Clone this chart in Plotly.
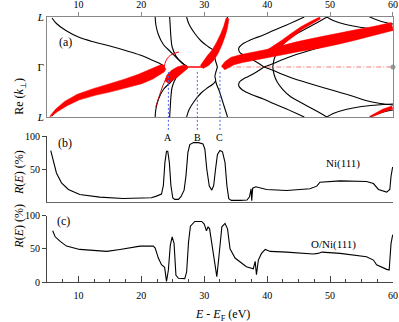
import numpy as np
import plotly.graph_objects as go

# ---------------- panel (a): complex band structure ----------------
# energies in eV, Re(k_perp) in units of Gamma-L (0 = Gamma, +-1 = L)
# real bands, upper half only (they are mirrored to k < 0)
b1_E = [5.8, 6.5, 8.0, 10.0, 12.5, 15.0, 17.5, 19.8, 21.5, 22.6, 23.2, 23.6]
b1_k = [0.98, 0.87, 0.73, 0.60, 0.50, 0.42, 0.33, 0.24, 0.15, 0.09, 0.05, 0.02]
b2_E = [22.2, 22.3, 22.7, 23.5, 24.6, 25.8, 26.7, 27.3]
b2_k = [1.0, 0.85, 0.65, 0.45, 0.31, 0.16, 0.06, 0.0]
b3_E = [24.5, 24.6, 24.7, 24.9, 25.5, 26.3, 26.9, 27.3]
b3_k = [1.0, 0.8, 0.6, 0.4, 0.22, 0.1, 0.04, 0.0]
b4_E = [27.2, 27.6, 28.5, 29.5, 30.6, 31.4, 31.8, 31.7, 31.9, 32.1]
b4_k = [1.0, 0.85, 0.67, 0.52, 0.41, 0.34, 0.28, 0.18, 0.08, 0.0]
b5_E = [33.7, 33.2, 32.7, 32.3, 32.0, 31.8]
b5_k = [1.0, 0.8, 0.6, 0.45, 0.36, 0.28]
b6_E = [45.9, 43.1, 41.0, 39.4, 37.5, 36.2, 35.5, 35.6, 36.2, 37.0, 38.3, 39.5]
b6_k = [1.0, 0.84, 0.73, 0.64, 0.55, 0.47, 0.38, 0.30, 0.24, 0.19, 0.10, 0.0]
b7_E = [39.5, 41.0, 42.5, 44.4, 47.0, 50.0, 53.0, 56.0, 58.0, 60.0]
b7_k = [0.0, 0.07, 0.15, 0.24, 0.34, 0.45, 0.56, 0.68, 0.73, 0.76]
b8_E = [40.9, 41.1, 41.6, 42.5, 43.8, 45.2, 46.5, 48.0, 49.5]
b8_k = [0.0, 0.15, 0.30, 0.45, 0.60, 0.70, 0.79, 0.89, 1.0]
b9_E = [49.5, 50.5, 52.5, 55.0, 57.5, 60.0]
b9_k = [1.0, 0.93, 0.85, 0.79, 0.76, 0.74]
b10_E = [56.3, 57.5, 58.8, 60.0]
b10_k = [1.0, 0.94, 0.89, 0.86]

# weighted (red) bands: centre line and weight (px)
r1_E = [5.5, 6.5, 8.0, 10.0, 12.5, 15.0, 17.5, 19.8, 21.5, 22.6, 23.3, 23.7]
r1_k = [-0.99, -0.87, -0.73, -0.60, -0.50, -0.42, -0.33, -0.24, -0.15, -0.08, -0.03, 0.0]
r1_w = [1, 3, 5, 6, 7, 8, 9, 10, 10, 9, 8, 5]
r2_E = [24.0, 24.5, 25.2, 26.0, 26.8, 27.3]
r2_k = [-0.30, -0.22, -0.14, -0.07, -0.02, 0.0]
r2_w = [4, 8, 9, 8, 6, 3]
r3_E = [29.6, 30.3, 31.0, 31.7, 32.4, 33.0, 33.4, 33.7]
r3_k = [0.0, 0.08, 0.18, 0.30, 0.47, 0.65, 0.80, 0.97]
r3_w = [4, 7, 8, 7, 6, 5, 4, 3]
r4_E = [33.0, 33.6, 34.5, 36.0, 38.0, 40.0, 42.5, 45.0, 48.0, 51.0, 54.0, 57.0, 59.9]
r4_k = [-0.02, 0.05, 0.12, 0.17, 0.22, 0.27, 0.34, 0.41, 0.48, 0.56, 0.64, 0.72, 0.81]
r4_w = [5, 7, 8, 8, 8, 8, 9, 10, 11, 11, 10, 9, 8]
r5_E = [39.8, 41.0, 42.5, 44.0, 45.5, 47.0, 48.4]
r5_k = [0.30, 0.38, 0.50, 0.64, 0.78, 0.89, 0.98]
r5_w = [2, 3, 4, 4, 3, 2.5, 2]
r6_E = [56.5, 57.5, 58.5, 59.9]
r6_k = [-0.99, -0.93, -0.87, -0.81]
r6_w = [1.5, 2.5, 3, 3]
arc_E = [23.6, 23.9, 24.3, 25.0, 26.0]
arc_k = [0.0, 0.12, 0.20, 0.26, 0.30]
low_E = [22.3, 22.8, 23.4, 24.0]
low_k = [-0.80, -0.60, -0.38, -0.22]
flat_E = [27.3, 29.8]
dash_E = [33.5, 60.0]

k_ticks = [-1, 0, 1]
k_labels = ["<i>L</i>", "Γ", "<i>L</i>"]
E_ticks = [10, 20, 30, 40, 50, 60]

# ---------------- panels (b), (c): reflectivity ----------------
ni_E = [5.6, 6.0, 6.5, 7.3, 8.4, 10.2, 13.4, 17.1, 20.3, 21.6, 22.4, 23.2, 23.5, 23.75, 24.0, 24.2,
        24.45, 24.7, 25.0, 25.3, 25.9, 26.3, 26.8, 27.1, 27.4, 27.7, 28.3, 29.1, 29.8, 30.1, 30.4,
        30.8, 31.2, 31.5, 31.8, 32.1, 32.5, 32.9, 33.3, 33.6, 33.9, 34.3, 35.7, 36.8, 37.2, 37.45,
        37.55, 37.7, 38.2, 39.9, 43.1, 46.8, 47.9, 48.4, 51.6, 55.8, 56.9, 57.7, 59.0, 59.5, 59.7, 59.95]
ni_R = [78, 64, 44, 29, 19, 11.4, 7.4, 5.4, 5.4, 6.5, 8.9, 12, 25, 60, 77, 77,
        60, 25, 6, 4, 4, 8, 18, 40, 75, 87, 90, 90, 88, 80, 50,
        24, 18, 25, 50, 72, 78, 76, 60, 25, 5, 2.5, 2.5, 3, 8, 20,
        2, 21, 23, 19, 17.5, 20, 24, 30, 32, 31, 28, 19, 15, 19, 39, 53]
oni_E = [5.9, 6.3, 7.1, 8.1, 10.2, 13.4, 14.5, 16.6, 19.8, 21.9, 22.2, 22.7, 23.2, 23.7, 24.0,
         24.3, 24.6, 24.9, 25.2, 25.5, 25.9, 26.9, 27.2, 27.5, 27.8, 28.5, 29.6, 30.0, 30.35, 30.6,
         30.85, 31.2, 31.7, 32.0, 32.3, 32.8, 33.3, 33.7, 34.1, 34.9, 36.7, 37.8, 38.1, 38.3, 38.6,
         39.1, 39.7, 40.5, 43.1, 47.3, 48.1, 48.7, 51.6, 55.8, 56.9, 57.4, 59.0, 59.4, 59.7, 59.96]
oni_R = [77, 68, 61, 54, 49, 47, 46, 49, 54, 54, 51, 36, 26, 22, 1,
         18, 55, 68, 58, 10, 5.6, 5, 15, 60, 84, 91, 91, 87, 77, 83,
         80, 58, 30, 8, 35, 83, 88, 80, 50, 36, 23, 20, 31, 11, 33,
         43, 49, 46, 45, 42, 43, 45, 43, 38, 33, 26, 19, 18, 58, 71]

peak_E = [24.3, 28.9, 32.5]
peak_names = ["A", "B", "C"]

FONT = "Liberation Serif"
RED = "#ff0000"
SX, SY = 6.29, 50.0  # px per eV, px per unit k (panel a)


def mirrored(E, k):
    E = list(E)
    k = list(k)
    return E + [None] + E, k + [None] + [-v for v in k]


def ribbon(E, k, w):
    E = np.array(E, float)
    k = np.array(k, float)
    w = np.array(w, float)
    px, py = E * SX, k * SY
    dx, dy = np.gradient(px), np.gradient(py)
    n = np.hypot(dx, dy)
    nx, ny = -dy / n, dx / n
    ux, uy = px + nx * w / 2, py + ny * w / 2
    lx, ly = px - nx * w / 2, py - ny * w / 2
    xs = np.concatenate([ux, lx[::-1], ux[:1]]) / SX
    ys = np.concatenate([uy, ly[::-1], uy[:1]]) / SY
    return xs, ys


fig = go.Figure()

black_bands = [(b1_E, b1_k), (b2_E, b2_k), (b3_E, b3_k), (b4_E, b4_k), (b5_E, b5_k),
               (b6_E, b6_k), (b7_E, b7_k), (b8_E, b8_k), (b9_E, b9_k), (b10_E, b10_k)]
for E, k in black_bands:
    xs, ys = mirrored(E, k)
    fig.add_trace(go.Scatter(x=xs, y=ys, mode="lines", line=dict(color="black", width=1.1, shape="spline"),
                             xaxis="x", yaxis="y", hoverinfo="skip"))

# thin red lines
fig.add_trace(go.Scatter(x=flat_E, y=[0, 0], mode="lines", line=dict(color=RED, width=1.5),
                         xaxis="x", yaxis="y"))
fig.add_trace(go.Scatter(x=dash_E, y=[0, 0], mode="lines",
                         line=dict(color="#f04040", width=0.7, dash="5px,2px,1px,2px"),
                         xaxis="x", yaxis="y"))
fig.add_trace(go.Scatter(x=arc_E, y=arc_k, mode="lines", line=dict(color=RED, width=1, shape="spline"),
                         xaxis="x", yaxis="y"))
fig.add_trace(go.Scatter(x=low_E, y=low_k, mode="lines", line=dict(color="#b01010", width=1, shape="spline"),
                         xaxis="x", yaxis="y"))

for E, k, w in [(r1_E, r1_k, r1_w), (r2_E, r2_k, r2_w), (r3_E, r3_k, r3_w),
                (r4_E, r4_k, r4_w), (r5_E, r5_k, r5_w), (r6_E, r6_k, r6_w)]:
    xs, ys = ribbon(E, k, w)
    fig.add_trace(go.Scatter(x=xs, y=ys, mode="lines", fill="toself", fillcolor=RED,
                             line=dict(color=RED, width=0.5), xaxis="x", yaxis="y"))

fig.add_trace(go.Scatter(x=[60], y=[0], mode="markers", marker=dict(color="#999", size=5),
                         xaxis="x", yaxis="y", cliponaxis=False))

# reflectivity curves
fig.add_trace(go.Scatter(x=ni_E, y=ni_R, mode="lines", line=dict(color="black", width=1.1),
                         xaxis="x2", yaxis="y2"))
fig.add_trace(go.Scatter(x=oni_E, y=oni_R, mode="lines", line=dict(color="black", width=1.1),
                         xaxis="x3", yaxis="y3"))

# A, B, C markers
for e, name in zip(peak_E, peak_names):
    fig.add_shape(type="line", xref="x", yref="paper", x0=e, x1=e, y0=0.574, y1=0.80,
                  line=dict(color="#4d5ff0", width=1, dash="2px,2px"))
    fig.add_annotation(x=e, y=98, xref="x2", yref="y2", text=name, showarrow=False,
                       font=dict(size=10, family=FONT, color="black"))

fig.add_annotation(x=7.9, y=0.5, xref="x", yref="y", text="(a)", showarrow=False,
                   font=dict(size=12, family=FONT, color="black"))
fig.add_annotation(x=7.9, y=89, xref="x2", yref="y2", text="(b)", showarrow=False,
                   font=dict(size=12, family=FONT, color="black"))
fig.add_annotation(x=7.7, y=91, xref="x3", yref="y3", text="(c)", showarrow=False,
                   font=dict(size=12, family=FONT, color="black"))
fig.add_annotation(x=52.1, y=59, xref="x2", yref="y2", text="Ni(111)", showarrow=False,
                   font=dict(size=11, family=FONT, color="black"))
fig.add_annotation(x=50.5, y=57, xref="x3", yref="y3", text="O/Ni(111)", showarrow=False,
                   font=dict(size=11, family=FONT, color="black"))

# axis titles
fig.add_annotation(x=-0.107, y=0.78, xref="paper", yref="paper", textangle=-90, showarrow=False,
                   text="Re (<i>k</i><sub>⊥</sub>)", font=dict(size=12, family=FONT, color="black"))
fig.add_annotation(x=-0.107, y=0.415, xref="paper", yref="paper", textangle=-90, showarrow=False,
                   text="<i>R</i>(<i>E</i>) (%)", font=dict(size=12, family=FONT, color="black"))
fig.add_annotation(x=-0.107, y=0.12, xref="paper", yref="paper", textangle=-90, showarrow=False,
                   text="<i>R</i>(<i>E</i>) (%)", font=dict(size=12, family=FONT, color="black"))
fig.add_annotation(x=0.506, y=-0.088, xref="paper", yref="paper", yanchor="top", showarrow=False,
                   text="<i>E</i> - <i>E</i><sub>F</sub> (eV)", font=dict(size=12, family=FONT, color="black"))

tick_font = dict(size=10, family=FONT, color="black")
axis_common = dict(range=[5, 60.01], showgrid=False, zeroline=False, domain=[0, 1], automargin=False)

fig.update_layout(
    width=399, height=322,
    margin=dict(l=47, r=6, t=17, b=40),
    paper_bgcolor="white", plot_bgcolor="white",
    showlegend=False,
    xaxis=dict(**axis_common, anchor="y", side="top", tickvals=E_ticks,
               ticks="outside", ticklen=4, tickcolor="#888", showline=True, mirror=True,
               linecolor="#888", linewidth=1, tickfont=tick_font),
    yaxis=dict(domain=[0.6226, 1.0], range=[-1, 1], tickvals=k_ticks, ticktext=k_labels,
               showgrid=False, zeroline=False, showline=True, mirror=True, linecolor="#888",
               linewidth=1, ticks="", tickfont=dict(size=11, family=FONT, color="black"), anchor="x",
               automargin=False),
    xaxis2=dict(**axis_common, anchor="y2", showticklabels=False, ticks="", showline=True,
                linecolor="#666", linewidth=1),
    yaxis2=dict(domain=[0.3019, 0.5509], range=[0, 100], tickvals=[50, 100], showgrid=False,
                zeroline=False, showline=True, linecolor="#444", linewidth=1, ticks="outside",
                ticklen=4, tickfont=tick_font, anchor="x2", automargin=False),
    xaxis3=dict(**axis_common, anchor="y3", tickvals=E_ticks, ticks="inside",
                ticklen=6, tickcolor="#444", showline=True, linecolor="#444", linewidth=1,
                tickfont=tick_font, ticklabelstandoff=4,
                minor=dict(dtick=2.5, tick0=5, ticks="inside", ticklen=3, tickcolor="#444")),
    yaxis3=dict(domain=[0, 0.2509], range=[0, 100], tickvals=[0, 50, 100], showgrid=False,
                zeroline=False, showline=True, linecolor="#444", linewidth=1, ticks="outside",
                ticklen=4, tickfont=tick_font, anchor="x3", automargin=False),
)

# drop the default 8 px page margin so the figure fills the window exactly; no mode bar
fig.write_html("out.html", config={"displayModeBar": False},
               post_script="document.body.style.margin = '0px';")
